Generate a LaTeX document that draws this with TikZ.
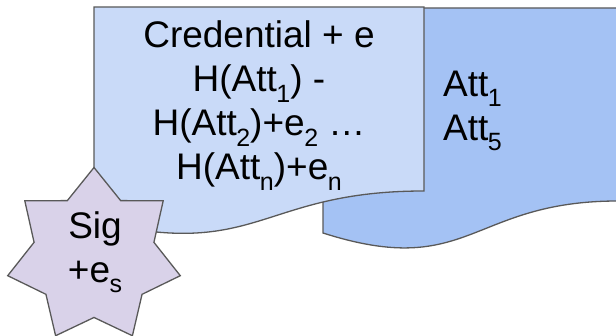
\documentclass[tikz,border=0pt]{standalone}
\usepackage{fontspec}
\setmainfont{Liberation Sans}
\usepackage{xcolor}
\usepackage{tikz}
\usetikzlibrary{shapes.geometric}
\definecolor{fr}{HTML}{C9DAF8}
\definecolor{bk}{HTML}{A4C2F4}
\definecolor{sg}{HTML}{D9D2E9}
\definecolor{ln}{HTML}{595959}
\newcommand{\Sbs}[1]{\kern-0.5pt\raisebox{-10.5pt}{\fontsize{25}{25}\selectfont #1}}

\begin{document}
\begin{tikzpicture}[x=1pt, y=-1pt,
    doc/.style={draw=ln, line width=1.3pt, line join=miter},
    txt/.style={font=\fontsize{37}{44}\selectfont, inner sep=0pt}]
  \useasboundingbox (0,0) rectangle (616,336);
  \draw[doc, fill=bk] (323,8) -- (618,8) -- (618,201)
    .. controls (470,201) and (470,280) .. (323,233) -- cycle;
  \draw[doc, fill=fr] (94,7) -- (424,7) -- (424,191)
    .. controls (259,191) and (259,261) .. (94,221) -- cycle;
  \node[txt, anchor=north, align=center] (cred) at (259,20.5) {%
    Credential + e\\
    H(Att\Sbs{1}) -\\
    H(Att\Sbs{2})+e\Sbs{2} …\\
    H(Att\Sbs{n})+e\Sbs{n}};
  \node[txt, anchor=north west, align=left] (atts) at (443,70.5) {%
    Att\Sbs{1}\\
    Att\Sbs{5}};
  \node[star, star points=7, star point ratio=1.44, minimum size=177pt,
    inner sep=0pt, draw=ln, fill=sg, line width=1.3pt] (sig) at (94,256) {};
  \node[txt, align=center] (sigtxt) at (95,252) {Sig\\+e\Sbs{s}};
\end{tikzpicture}
\end{document}
